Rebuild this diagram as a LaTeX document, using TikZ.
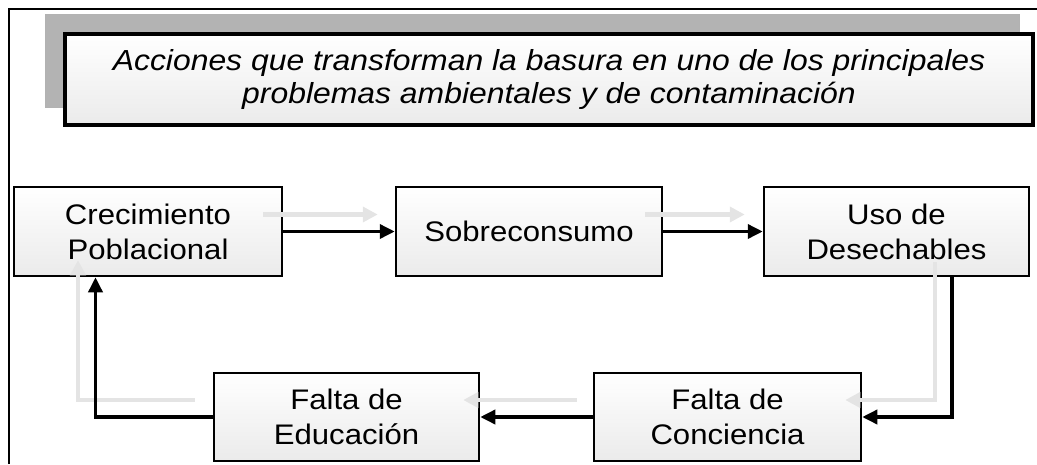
\documentclass[tikz,border=0pt]{standalone}
\usepackage{fontspec}
\setmainfont{Liberation Sans}[FakeStretch=1.1]
\usetikzlibrary{arrows.meta}
\definecolor{ghostgray}{HTML}{E4E4E4}
\definecolor{shadowgray}{HTML}{B3B3B3}
\tikzset{
  flowbox/.style={draw=black, line width=2.5pt, inner sep=0pt,
    top color=white, bottom color=black!8, align=center,
    font=\fontsize{28.3}{35}\selectfont},
  blackarrow/.style={draw=black, line width=3.5pt,
    -{Triangle[length=15pt,width=14pt]}},
  ghostarrow/.style={draw=ghostgray, line width=4.5pt,
    -{Triangle[length=15pt,width=15pt]}},
}
\begin{document}
\begin{tikzpicture}[x=1pt,y=-1pt]
\useasboundingbox (0,0) rectangle (1037,464);
% outer frame
\draw[line width=2pt] (9,464) -- (9,9) -- (1037,9);
% title with shadow
\node[draw=black!30, line width=1pt, fill=shadowgray, minimum width=974pt,
  minimum height=93pt, inner sep=0pt] (shadow) at (532.5,61) {};
\node[draw=black, line width=4pt, top color=white, bottom color=black!8,
  minimum width=968pt, minimum height=91pt, inner sep=0pt, align=center,
  font=\itshape\fontsize{29}{33}\selectfont] (title) at (549,79.5)
  {Acciones que transforman la basura en uno de los principales\\
   problemas ambientales y de contaminación};
% boxes
\node[flowbox, minimum width=268pt, minimum height=89pt] (crec) at (148,231.5) {Crecimiento\\Poblacional};
\node[flowbox, minimum width=266pt, minimum height=89pt] (sob) at (529,231.5) {Sobreconsumo};
\node[flowbox, minimum width=265pt, minimum height=89pt] (uso) at (896.5,231.5) {Uso de\\Desechables};
\node[flowbox, minimum width=265pt, minimum height=88pt] (edu) at (346.5,417) {Falta de\\Educación};
\node[flowbox, minimum width=267pt, minimum height=88pt] (conc) at (727.5,417) {Falta de\\Conciencia};
% light shadow connectors
\draw[ghostarrow] ([shift={(-20,-17)}]crec.east) -- ([shift={(-17,-17)}]sob.west);
\draw[ghostarrow] ([shift={(-18,-17)}]sob.east) -- ([shift={(-18,-17)}]uso.west);
\draw[ghostarrow] ([shift={(38.5,-15)}]uso.south) |- ([shift={(-17,-17)}]conc.east);
\draw[ghostarrow] ([shift={(-16,-17)}]conc.west) -- ([shift={(-17,-17)}]edu.east);
\draw[ghostarrow] ([shift={(-18,-17)}]edu.west) -| ([shift={(-70,-17)}]crec.south);
% main connectors
\draw[blackarrow] (crec.east) -- (sob.west);
\draw[blackarrow] (sob.east) -- (uso.west);
\draw[blackarrow] ([xshift=55.5pt]uso.south) |- (conc.east);
\draw[blackarrow] (conc.west) -- (edu.east);
\draw[blackarrow] (edu.west) -| ([xshift=-52.5pt]crec.south);
\end{tikzpicture}
\end{document}
